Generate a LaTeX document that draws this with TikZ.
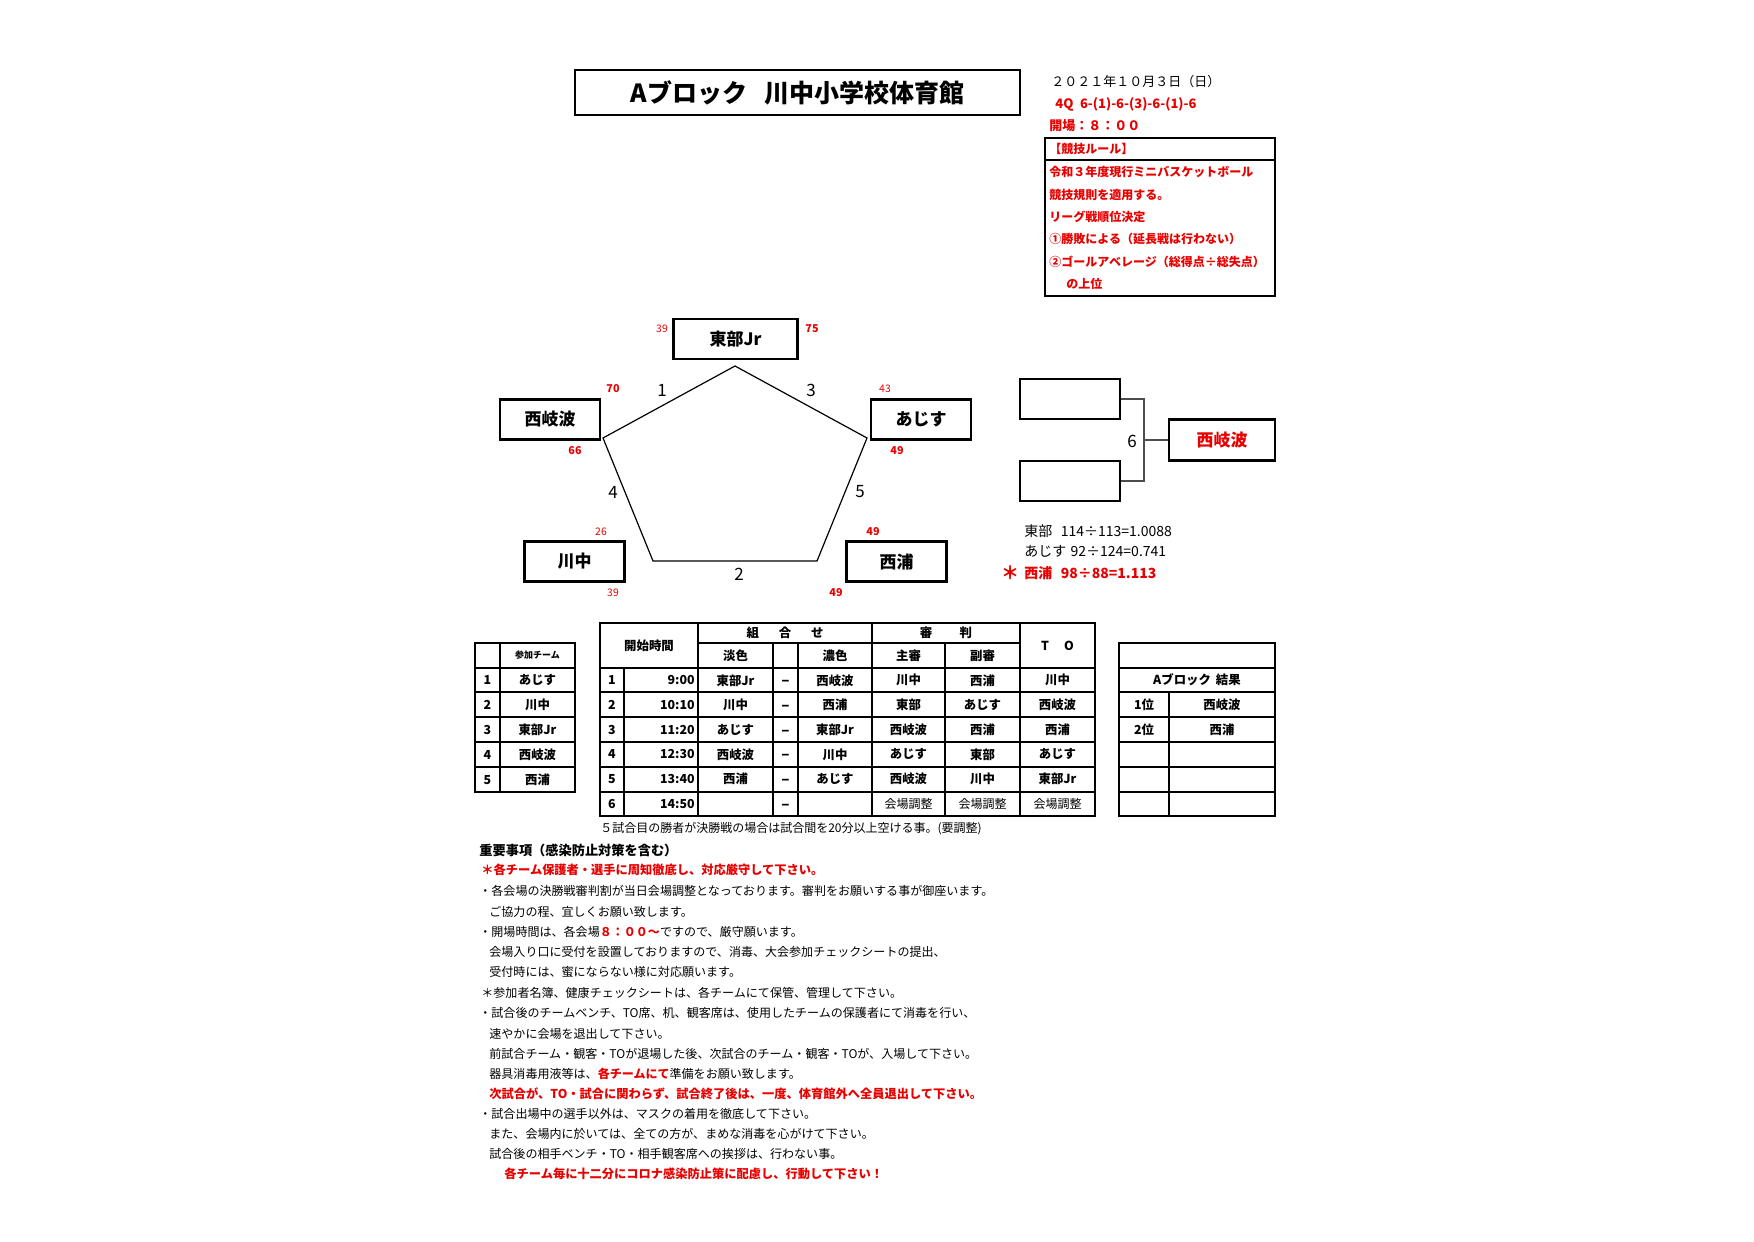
\documentclass[tikz,border=0pt]{standalone}
\usepackage{fontspec}
\setmainfont{Noto Sans CJK JP}
\usetikzlibrary{positioning}
\definecolor{jred}{RGB}{232,0,0}
\newcommand\fs[1]{\fontsize{#1}{#1}\selectfont}

\begin{document}
\begin{tikzpicture}[
        x=0.5pt, y=-0.5pt,
        every node/.style={inner sep=0pt},
        team/.style={draw, line width=1.1pt, minimum width=50pt, minimum height=20pt,
                     font=\fs{8.5pt}\bfseries},
        score/.style={text=jred, font=\fs{5.2pt}},
        scoreb/.style={text=jred, font=\fs{5.4pt}\bfseries},
        game/.style={font=\fs{8.5pt}},
        note/.style={anchor=west, font=\fs{6.02pt}},
        rednote/.style={anchor=west, text=jred, font=\fs{6.12pt}\bfseries},
        rule/.style={anchor=west, text=jred, font=\fs{6pt}\bfseries},
        cell/.style={font=\fs{6.2pt}\bfseries},
        tabline/.style={line width=0.8pt},
        tabframe/.style={line width=1.2pt},
    ]
        \useasboundingbox (0,0) rectangle (1754,1241);

        \node[draw, line width=1.1pt, minimum width=222.5pt, minimum height=22.5pt,
              font=\fs{12.5pt}\bfseries] (title) at (797.5,92.5)
            {Aブロック\hspace{0.7em}川中小学校体育館};

        \node[anchor=west, font=\fs{6.5pt}] (date) at (1051,82) {２０２１年１０月３日（日）};
        \node[anchor=west, text=jred, font=\fs{6.5pt}\bfseries] (quarter) at (1055,104)
            {4Q\hspace{0.5em}6-(1)-6-(3)-6-(1)-6};
        \node[anchor=west, text=jred, font=\fs{6.5pt}\bfseries] (open) at (1049,126) {開場：８：００};

        \draw[line width=1.1pt] (1045,138) rectangle (1275,296);
        \draw[line width=1.1pt] (1045,160) -- (1275,160);
        \node[rule] (r0) at (1049,149) {【競技ルール】};
        \node[rule] (r1) at (1049,172) {令和３年度現行ミニバスケットボール};
        \node[rule] (r2) at (1049,195) {競技規則を適用する。};
        \node[rule] (r3) at (1049,217) {リーグ戦順位決定};
        \node[rule] (r4) at (1049,239) {①勝敗による（延長戦は行わない）};
        \node[rule] (r5) at (1049,262) {②ゴールアベレージ（総得点÷総失点）};
        \node[rule] (r6) at (1066,284) {の上位};

        \node[team, minimum width=62pt] (tobu) at (735.5,339) {東部Jr};
        \node[team] (nishikiwa) at (550,419.5) {西岐波};
        \node[team] (ajisu) at (921,419.5) {あじす};
        \node[team] (kawanaka) at (574.5,561.5) {川中};
        \node[team] (nishiura) at (896.5,561.5) {西浦};

        \coordinate (pT) at (735,366);
        \coordinate (pR) at (867,438);
        \coordinate (pBR) at (817,561);
        \coordinate (pBL) at (653,561);
        \coordinate (pL) at (603,438);
        \draw[line width=0.6pt] (pT) -- (pR) -- (pBR) -- (pBL) -- (pL) -- cycle;

        \node[game] (g1) at (662,390) {1};
        \node[game] (g3) at (811,390) {3};
        \node[game] (g4) at (613,492) {4};
        \node[game] (g5) at (860,492) {5};
        \node[game] (g2) at (739,574) {2};

        \node[score] (s1) at (662,329) {39};
        \node[scoreb] (s2) at (812,329) {75};
        \node[scoreb] (s3) at (613,389) {70};
        \node[scoreb] (s4) at (575,451) {66};
        \node[score] (s5) at (885,389) {43};
        \node[scoreb] (s6) at (897,451) {49};
        \node[score] (s7) at (601,532) {26};
        \node[score] (s8) at (613,593) {39};
        \node[scoreb] (s9) at (873,532) {49};
        \node[scoreb] (s10) at (836,593) {49};

        \node[team] (semi1) at (1070,399) {};
        \node[team] (semi2) at (1070,481) {};
        \node[team, minimum width=53pt, minimum height=20.5pt, text=jred] (final) at (1222,440) {西岐波};
        \coordinate (join) at (1144,440);
        \draw[black!70, line width=0.7pt] (semi1.east) -| (join) |- (semi2.east);
        \draw[black!70, line width=0.7pt] (join) -- (final.west);
        \node[game] (g6) at (1132,441) {6};

        \node[anchor=west, font=\fs{7pt}] (avg1) at (1024,531) {東部\hspace{0.6em}114÷113=1.0088};
        \node[anchor=west, font=\fs{7pt}] (avg2) at (1024,551) {あじす\hspace{0.3em}92÷124=0.741};
        \node[anchor=west, text=jred, font=\fs{7pt}\bfseries] (avg3) at (1024,573)
            {西浦\hspace{0.6em}98÷88=1.113};
        \node[text=jred, font=\fs{9pt}\bfseries] (star) at (1010,573) {＊};

        % participating teams
        \draw[tabframe] (475,643) rectangle (575,792);
        \draw[tabline] (500,643) -- (500,792);
        \foreach \y in {668,692,717,742,767}
            \draw[tabline] (475,\y) -- (575,\y);
        \node[cell, font=\fs{4.5pt}\bfseries] (hteam) at (537.5,655.5) {参加チーム};
        \foreach \t [count=\i] in {あじす,川中,東部Jr,西岐波,西浦}{
            \pgfmathsetmacro\yy{668+24.8*(\i-0.5)}
            \node[cell] (pn\i) at (487.5,\yy) {\i};
            \node[cell] (pt\i) at (537.5,\yy) {\t};
        }

        % schedule
        \draw[tabframe] (600,623) rectangle (1095,816);
        \draw[tabline] (698,643) -- (1020,643);
        \foreach \y in {668,692,717,742,767,792}
            \draw[tabline] (600,\y) -- (1095,\y);
        \foreach \x in {698,872,1020}
            \draw[tabline] (\x,623) -- (\x,816);
        \draw[tabline] (624,668) -- (624,816);
        \foreach \x in {773,798,945}
            \draw[tabline] (\x,643) -- (\x,816);
        \node[cell] (htime) at (649,645.5) {開始時間};
        \node[cell] (hpair) at (785,633) {組\hspace{1.6em}合\hspace{1.6em}せ};
        \node[cell] (href) at (946,633) {審\hspace{2.2em}判};
        \node[cell] (hto) at (1057.5,645.5) {T\hspace{1.2em}O};
        \node[cell] (hlight) at (735.5,655.5) {淡色};
        \node[cell] (hdark) at (835,655.5) {濃色};
        \node[cell] (hmain) at (908.5,655.5) {主審};
        \node[cell] (hsub) at (982.5,655.5) {副審};
        \foreach \tm/\a/\b/\c/\d/\e [count=\i] in {
                9:00/東部Jr/西岐波/川中/西浦/川中,
                10:10/川中/西浦/東部/あじす/西岐波,
                11:20/あじす/東部Jr/西岐波/西浦/西浦,
                12:30/西岐波/川中/あじす/東部/あじす,
                13:40/西浦/あじす/西岐波/川中/東部Jr,
                14:50/{}/{}/{}/{}/{}}{
            \pgfmathsetmacro\yy{668+24.67*(\i-0.5)}
            \node[cell] (m\i n) at (612,\yy) {\i};
            \node[cell, anchor=east] (m\i t) at (695,\yy) {\tm};
            \node[cell] (m\i a) at (735.5,\yy) {\a};
            \node[cell, font=\fs{7.5pt}\bfseries] (m\i v) at (785.5,\yy+3) {–};
            \node[cell] (m\i b) at (835,\yy) {\b};
            \node[cell] (m\i c) at (908.5,\yy) {\c};
            \node[cell] (m\i d) at (982.5,\yy) {\d};
            \node[cell] (m\i e) at (1057.5,\yy) {\e};
        }
        \node[font=\fs{6pt}] (adj1) at (908.5,804) {会場調整};
        \node[font=\fs{6pt}] (adj2) at (982.5,804) {会場調整};
        \node[font=\fs{6pt}] (adj3) at (1057.5,804) {会場調整};

        % result
        \draw[tabframe] (1119,643) rectangle (1275,816);
        \foreach \y in {668,692,717,742,767,792}
            \draw[tabline] (1119,\y) -- (1275,\y);
        \draw[tabline] (1169,692) -- (1169,816);
        \node[cell] (res) at (1197,680) {Aブロック\hspace{0.4em}結果};
        \node[cell] (rank1) at (1144,704.5) {1位};
        \node[cell] (win1) at (1222,704.5) {西岐波};
        \node[cell] (rank2) at (1144,729.5) {2位};
        \node[cell] (win2) at (1222,729.5) {西浦};

        \node[font=\fs{6pt}] (memo) at (791,829)
            {５試合目の勝者が決勝戦の場合は試合間を20分以上空ける事。(要調整)};

        % notes
        \node[note, font=\fs{6.6pt}\bfseries] (n1) at (479,850) {重要事項（感染防止対策を含む）};
        \node[rednote] (n2) at (481,870) {＊各チーム保護者・選手に周知徹底し、対応厳守して下さい。};
        \node[note] (n3) at (479,891) {・各会場の決勝戦審判割が当日会場調整となっております。審判をお願いする事が御座います。};
        \node[note] (n4) at (489,912) {ご協力の程、宜しくお願い致します。};
        \node[note] (n5) at (479,932)
            {・開場時間は、各会場{\color{jred}\bfseries ８：００～}ですので、厳守願います。};
        \node[note] (n6) at (489,952) {会場入り口に受付を設置しておりますので、消毒、大会参加チェックシートの提出、};
        \node[note] (n7) at (489,972) {受付時には、蜜にならない様に対応願います。};
        \node[note] (n8) at (481,993) {＊参加者名簿、健康チェックシートは、各チームにて保管、管理して下さい。};
        \node[note] (n9) at (479,1013) {・試合後のチームベンチ、TO席、机、観客席は、使用したチームの保護者にて消毒を行い、};
        \node[note] (n10) at (489,1034) {速やかに会場を退出して下さい。};
        \node[note] (n11) at (489,1054) {前試合チーム・観客・TOが退場した後、次試合のチーム・観客・TOが、入場して下さい。};
        \node[note] (n12) at (489,1074)
            {器具消毒用液等は、{\color{jred}\bfseries 各チームにて}準備をお願い致します。};
        \node[rednote] (n13) at (489,1094) {次試合が、TO・試合に関わらず、試合終了後は、一度、体育館外へ全員退出して下さい。};
        \node[note] (n14) at (479,1114) {・試合出場中の選手以外は、マスクの着用を徹底して下さい。};
        \node[note] (n15) at (489,1134) {また、会場内に於いては、全ての方が、まめな消毒を心がけて下さい。};
        \node[note] (n16) at (489,1154) {試合後の相手ベンチ・TO・相手観客席への挨拶は、行わない事。};
        \node[rednote] (n17) at (504,1174) {各チーム毎に十二分にコロナ感染防止策に配慮し、行動して下さい！};
    \end{tikzpicture}
\end{document}
